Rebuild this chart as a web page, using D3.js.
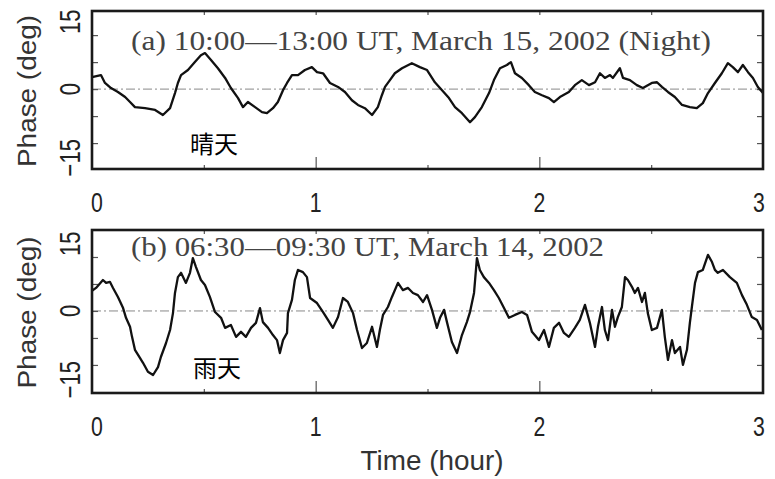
<!DOCTYPE html>
<html><head><meta charset="utf-8">
<script src="https://cdn.jsdelivr.net/npm/d3@7"></script>
<style>html,body{margin:0;padding:0;background:#fff;}svg{display:block;}</style>
</head><body>
<svg id="c" width="775" height="479"></svg>
<script>
// ---- data (time in hours, phase in degrees) ----
const timeA = [0.000,0.040,0.058,0.085,0.116,0.148,0.170,0.192,0.237,0.282,0.317,0.349,0.371,0.384,0.398,0.429,0.460,0.487,0.505,0.532,0.563,0.595,0.621,0.653,0.675,0.697,0.729,0.760,0.782,0.809,0.831,0.854,0.872,0.894,0.921,0.952,0.983,1.006,1.033,1.064,1.100,1.131,1.162,1.189,1.220,1.252,1.278,1.296,1.310,1.332,1.354,1.386,1.430,1.466,1.498,1.533,1.565,1.596,1.623,1.654,1.690,1.712,1.743,1.775,1.797,1.824,1.855,1.873,1.891,1.922,1.953,1.980,2.012,2.043,2.065,2.092,2.132,2.159,2.190,2.222,2.249,2.271,2.293,2.316,2.329,2.360,2.374,2.405,2.436,2.463,2.503,2.526,2.548,2.575,2.606,2.638,2.673,2.704,2.731,2.754,2.785,2.816,2.843,2.865,2.888,2.910,2.933,2.955,2.977,3.000];
const phaseA = [3.3,3.9,1.7,0.3,-0.8,-2.2,-3.6,-5.0,-5.3,-5.8,-7.2,-5.3,-1.1,1.7,3.9,5.3,7.5,9.4,10.0,8.1,5.8,3.1,0.3,-2.5,-5.0,-3.6,-5.0,-6.4,-6.7,-5.3,-3.6,-0.3,1.7,3.9,3.9,5.3,6.1,4.7,4.4,1.7,0.6,-0.8,-3.1,-4.4,-5.3,-7.2,-5.0,-1.7,0.6,2.5,4.4,5.8,7.2,6.1,5.3,1.9,-0.3,-2.5,-5.0,-6.7,-9.2,-7.8,-5.0,-1.1,2.5,5.8,6.7,7.5,4.4,3.1,1.1,-0.8,-1.7,-2.5,-3.6,-2.2,-0.8,1.1,2.5,1.1,1.9,4.4,3.1,3.9,3.1,5.8,3.1,2.5,1.1,0.3,1.7,1.9,0.6,-0.8,-2.2,-4.4,-5.0,-5.3,-3.9,-1.1,1.7,4.4,7.2,6.1,4.7,6.7,4.7,3.1,0.6,-1.1];

const timeB = [0.000,0.018,0.049,0.063,0.080,0.094,0.116,0.139,0.152,0.170,0.179,0.192,0.215,0.228,0.250,0.273,0.295,0.308,0.331,0.349,0.362,0.371,0.384,0.398,0.420,0.438,0.451,0.465,0.487,0.505,0.527,0.550,0.577,0.595,0.621,0.644,0.666,0.688,0.711,0.733,0.751,0.764,0.787,0.809,0.827,0.840,0.854,0.872,0.876,0.894,0.907,0.921,0.943,0.961,0.975,1.006,1.033,1.055,1.077,1.100,1.122,1.144,1.167,1.185,1.207,1.229,1.252,1.274,1.287,1.301,1.323,1.341,1.368,1.390,1.413,1.435,1.457,1.480,1.498,1.520,1.542,1.556,1.574,1.587,1.609,1.632,1.654,1.676,1.690,1.708,1.721,1.734,1.752,1.775,1.797,1.819,1.842,1.864,1.891,1.922,1.945,1.967,1.998,2.021,2.043,2.065,2.088,2.110,2.132,2.159,2.181,2.204,2.226,2.249,2.262,2.280,2.293,2.307,2.325,2.338,2.351,2.369,2.383,2.396,2.414,2.427,2.441,2.459,2.472,2.485,2.503,2.526,2.548,2.561,2.575,2.593,2.606,2.629,2.642,2.660,2.673,2.682,2.696,2.709,2.731,2.754,2.772,2.785,2.798,2.821,2.852,2.883,2.906,2.928,2.950,2.973,2.995];
const phaseB = [5.6,6.4,8.6,7.8,8.1,6.4,3.9,0.8,-1.9,-4.4,-7.2,-10.8,-13.1,-14.4,-16.9,-17.8,-15.6,-12.8,-8.9,-5.3,-0.6,5.0,9.4,10.6,7.8,10.6,14.7,12.2,8.6,7.2,3.9,-0.3,-1.9,-4.7,-3.9,-7.2,-5.8,-7.2,-4.7,-3.3,0.8,-3.1,-4.7,-6.7,-8.1,-11.7,-8.1,-6.1,-0.6,3.1,8.6,11.4,10.8,9.4,3.6,2.2,-0.3,-2.5,-4.7,-1.7,3.6,2.5,-0.6,-5.3,-10.3,-8.9,-4.4,-10.0,-5.3,-1.1,1.1,3.9,7.8,5.8,6.4,5.0,4.4,2.5,4.4,0.3,-4.7,-1.9,0.3,-3.1,-8.6,-11.7,-6.7,-3.1,-0.3,5.0,14.7,11.4,9.4,7.8,5.8,3.6,0.8,-1.9,-1.1,-0.3,-1.1,-5.8,-8.1,-5.3,-10.0,-4.7,-3.3,-6.1,-7.2,-4.7,-2.5,1.7,-3.3,-10.0,-4.4,1.1,-5.3,-8.1,0.3,-4.4,-1.7,1.1,9.4,8.6,6.7,5.0,6.4,2.5,5.0,-0.6,-5.3,-4.7,0.3,-7.2,-13.6,-8.1,-11.7,-10.0,-15.0,-10.8,-3.3,1.1,7.8,10.8,11.4,15.6,13.6,11.4,10.6,11.4,9.4,7.8,4.4,1.7,-1.7,-2.5,-5.3];

const xTickLabels = [0, 1, 2, 3];
const xMinorTicks = [0.5, 1, 1.5, 2, 2.5];
const xMajorBottom = [1, 2];
const yTickLabels = [15, 0, -15];
const yMinorTicks = [-15, -7.5, 0, 7.5, 15];
const titles = ["(a) 10:00\u201413:00 UT, March 15, 2002  (Night)", "(b) 06:30\u201409:30 UT, March 14, 2002"];
const notes = ["晴天", "雨天"];
const yTitle = "Phase (deg)";
const xTitle = "Time (hour)";

// ---- layout ----
const svg = d3.select("#c");
const L = 92, R = 763;
const panels = [
  {top: 11, bottom: 169, domain: [-22.2, 21.7], t: timeA, p: phaseA, title: titles[0], titleW: 580, titleY: 50, note: notes[0], noteX: 190},
  {top: 230, bottom: 393, domain: [-22.8, 22.5], t: timeB, p: phaseB, title: titles[1], titleW: 473, titleY: 256, note: notes[1], noteX: 193}
];
const x = d3.scaleLinear().domain([0, 3]).range([L, R]);
const sans = "'Liberation Sans', Arial, sans-serif";

panels.forEach((P, i) => {
  const y = d3.scaleLinear().domain(P.domain).range([P.bottom, P.top]);
  const g = svg.append("g");

  // zero reference line
  g.append("line").attr("x1", L).attr("x2", R).attr("y1", y(0)).attr("y2", y(0))
    .attr("stroke", "#888").attr("stroke-width", 1).attr("stroke-dasharray", "9,3,2,3");

  // inner ticks via axes
  const tickStyle = sel => { sel.select(".domain").remove(); sel.selectAll("line").attr("stroke", "#555").attr("stroke-width", 1.2); };
  g.append("g").attr("transform", `translate(${L},0)`)
    .call(d3.axisLeft(y).tickValues(yMinorTicks).tickSize(-6).tickFormat("")).call(tickStyle);
  g.append("g").attr("transform", `translate(${R},0)`)
    .call(d3.axisRight(y).tickValues(yMinorTicks).tickSize(-6).tickFormat("")).call(tickStyle);
  g.append("g").attr("transform", `translate(0,${P.top})`)
    .call(d3.axisTop(x).tickValues(xMinorTicks).tickSize(-4).tickFormat("")).call(tickStyle);
  g.append("g").attr("transform", `translate(0,${P.bottom})`)
    .call(d3.axisBottom(x).tickValues(xMinorTicks.filter(v => !xMajorBottom.includes(v))).tickSize(-4).tickFormat("")).call(tickStyle);
  g.append("g").attr("transform", `translate(0,${P.bottom})`)
    .call(d3.axisBottom(x).tickValues(xMajorBottom).tickSize(-12).tickFormat("")).call(tickStyle);

  // title
  g.append("text").attr("x", 131).attr("y", P.titleY)
    .attr("font-family", "'Liberation Serif', 'Times New Roman', serif")
    .attr("font-size", 27).attr("fill", "#444")
    .attr("textLength", P.titleW).attr("lengthAdjust", "spacingAndGlyphs")
    .text(P.title);

  // curve
  const data = P.t.map((t, k) => [t, P.p[k]]);
  g.append("path").datum(data)
    .attr("fill", "none").attr("stroke", "#111").attr("stroke-width", 2.3)
    .attr("stroke-linejoin", "round")
    .attr("d", d3.line().x(d => x(d[0])).y(d => y(d[1])));

  // frame
  g.append("rect").attr("x", L).attr("y", P.top).attr("width", R - L).attr("height", P.bottom - P.top)
    .attr("fill", "none").attr("stroke", "#1a1a1a").attr("stroke-width", 2.6);

  // x tick labels
  xTickLabels.forEach(v => {
    const xx = Math.max(97, Math.min(759, x(v)));
    g.append("text").attr("transform", `translate(${xx},${P.bottom + 43}) scale(0.76,1)`)
      .attr("text-anchor", "middle").attr("font-family", sans).attr("font-size", 28).attr("fill", "#222")
      .text(v);
  });

  // y tick labels (rotated)
  yTickLabels.forEach(v => {
    const anchor = v > 0 ? "start" : (v < 0 ? "end" : "middle");
    const yy = v > 0 ? y(v) - 1 : (v < 0 ? y(v) - 4 : y(v));
    g.append("text").attr("transform", `translate(80,${yy}) rotate(-90) scale(0.76,1)`)
      .attr("text-anchor", anchor).attr("font-family", sans).attr("font-size", 29).attr("fill", "#222")
      .text(v < 0 ? "\u2212" + Math.abs(v) : v);
  });

  // y axis title
  const yc = (P.top + P.bottom) / 2 + 1;
  g.append("text").attr("transform", `translate(36,${yc}) rotate(-90)`)
    .attr("text-anchor", "middle").attr("font-family", sans).attr("font-size", 25).attr("fill", "#333")
    .attr("textLength", 152).attr("lengthAdjust", "spacingAndGlyphs")
    .text(yTitle);

  // Chinese annotation
  g.append("text").attr("x", P.noteX).attr("y", P.bottom - 16)
    .attr("font-family", "'Noto Sans CJK SC', sans-serif").attr("font-size", 24).attr("fill", "#000")
    .text(P.note);
});

// x axis title
svg.append("text").attr("x", 432).attr("y", 470).attr("text-anchor", "middle")
  .attr("font-family", sans).attr("font-size", 28).attr("fill", "#333")
  .attr("textLength", 143).attr("lengthAdjust", "spacingAndGlyphs")
  .text(xTitle);
</script>
</body></html>
